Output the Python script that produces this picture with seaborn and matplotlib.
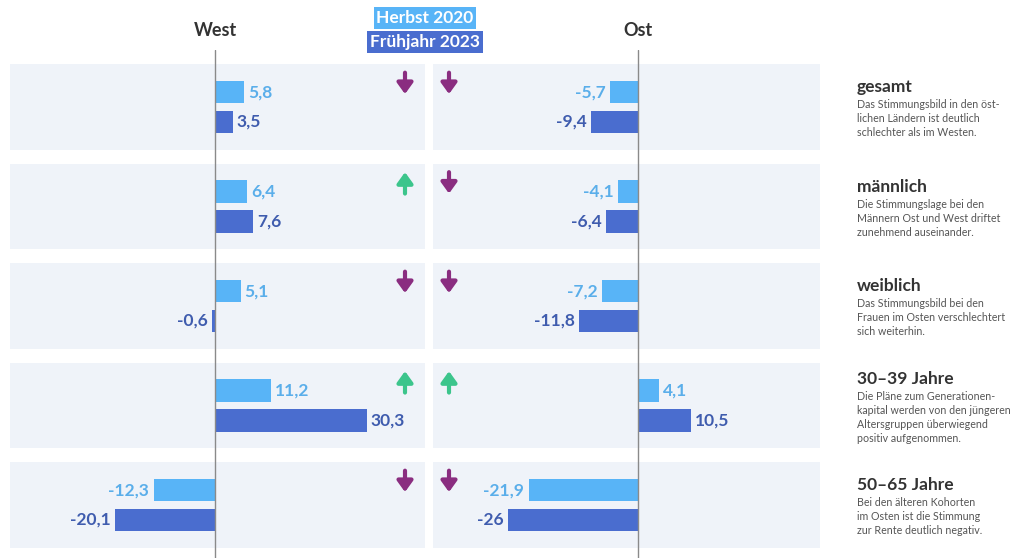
import pandas as pd
import matplotlib
import matplotlib.pyplot as plt
import seaborn as sns
matplotlib.use('Agg')

# Daten
groups = ['gesamt', 'männlich', 'weiblich', '30–39 Jahre', '50–65 Jahre']
periods = ['Herbst 2020', 'Frühjahr 2023']
west_2020 = [5.8, 6.4, 5.1, 11.2, -12.3]
west_2023 = [3.5, 7.6, -0.6, 30.3, -20.1]
ost_2020 = [-5.7, -4.1, -7.2, 4.1, -21.9]
ost_2023 = [-9.4, -6.4, -11.8, 10.5, -26.0]
west_trend = ['down', 'up', 'down', 'up', 'down']
ost_trend = ['down', 'down', 'down', 'up', 'down']
notes = [
    'Das Stimmungsbild in den öst-\nlichen Ländern ist deutlich\nschlechter als im Westen.',
    'Die Stimmungslage bei den\nMännern Ost und West driftet\nzunehmend auseinander.',
    'Das Stimmungsbild bei den\nFrauen im Osten verschlechtert\nsich weiterhin.',
    'Die Pläne zum Generationen-\nkapital werden von den jüngeren\nAltersgruppen überwiegend\npositiv aufgenommen.',
    'Bei den älteren Kohorten\nim Osten ist die Stimmung\nzur Rente deutlich negativ.',
]

# Farben
c_light = '#58b4f7'
c_dark = '#4a6dcf'
c_light_txt = '#5aaeea'
c_dark_txt = '#3f5cae'
c_bg = '#eff3f9'
c_down = '#8a2d80'
c_up = '#3cc58c'
palette = {periods[0]: c_light, periods[1]: c_dark}

sns.set_theme(style='white')
plt.rcParams['font.family'] = ['Lato', 'DejaVu Sans']

W, H = 1011, 558
fig = plt.figure(figsize=(W / 100, H / 100), dpi=100)
fig.patch.set_facecolor('white')


def fx(x):
    return x / W


def fy(y):
    return 1 - y / H


def fmt(v):
    return f'{v:g}'.replace('.', ',')


def make_df(a, b):
    return pd.DataFrame({
        'group': groups * 2,
        'period': [periods[0]] * len(groups) + [periods[1]] * len(groups),
        'value': a + b,
    })


# Panel: (Werte 2020, Werte 2023, Trends, linke Kante px, rechte Kante px, xlim, Titel, Pfeil-x)
panels = [
    (west_2020, west_2023, west_trend, 10, 425, (-41, 42), 'West', 38),
    (ost_2020, ost_2023, ost_trend, 433, 820, (-41, 36.4), 'Ost', -37.8),
]

row_px = 99.5
top_px = 50
for v20, v23, trend, left, right, xlim, title, arrow_x in panels:
    ax = fig.add_axes([fx(left), 0, fx(right - left), (H - top_px) / H])
    for i in range(len(groups)):
        ax.axhspan(i - 0.432, i + 0.432, color=c_bg, lw=0, zorder=0)

    sns.barplot(
        data=make_df(v20, v23), x='value', y='group', hue='period',
        order=groups, hue_order=periods, palette=palette, orient='h',
        width=0.6, gap=0.25, saturation=1, linewidth=0,
        legend=False, ax=ax, zorder=2,
    )
    ax.bar_label(ax.containers[0], labels=[fmt(v) for v in v20], padding=3,
                 color=c_light_txt, fontsize=12.5, fontweight='bold')
    ax.bar_label(ax.containers[1], labels=[fmt(v) for v in v23], padding=3,
                 color=c_dark_txt, fontsize=12.5, fontweight='bold')

    ax.axvline(0, color='#8a8a8a', lw=1, zorder=3)

    # Trendpfeile
    for i, t in enumerate(trend):
        y0, y1 = i - 0.345, i - 0.13
        if t == 'up':
            y0, y1 = y1, y0
        ax.annotate('', xy=(arrow_x, y1), xytext=(arrow_x, y0),
                    arrowprops=dict(arrowstyle='-|>,head_width=0.36,head_length=0.5',
                                    lw=3, color=c_down if t == 'down' else c_up,
                                    mutation_scale=13, shrinkA=0, shrinkB=0))

    ax.set_xlim(*xlim)
    ax.set_ylim((H - 107) / row_px, (top_px - 107) / row_px)
    ax.axis('off')

    zero_px = left + (0 - xlim[0]) / (xlim[1] - xlim[0]) * (right - left)
    fig.text(fx(zero_px), fy(30), title, ha='center', va='center',
             fontsize=13, fontweight='bold', color='#333333')

# Legende
fig.text(fx(425), fy(18), 'Herbst 2020', ha='center', va='center', color='white',
         fontsize=12.5, fontweight='bold',
         bbox=dict(boxstyle='square,pad=0.15', fc=c_light, ec='none'))
fig.text(fx(425), fy(42), 'Frühjahr 2023', ha='center', va='center', color='white',
         fontsize=12.5, fontweight='bold',
         bbox=dict(boxstyle='square,pad=0.15', fc=c_dark, ec='none'))

# Beschreibungen rechts
for i, (g, n) in enumerate(zip(groups, notes)):
    yc = 107 + i * row_px
    extra = (n.count('\n') - 2) * 7
    fig.text(fx(857), fy(yc - 20 - extra), g, ha='left', va='center',
             fontsize=12.5, fontweight='bold', color='#333333')
    fig.text(fx(857), fy(yc - 8 - extra), n, ha='left', va='top',
             fontsize=7.7, color='#555555', linespacing=1.35)

fig.savefig('out.png', dpi=100)
